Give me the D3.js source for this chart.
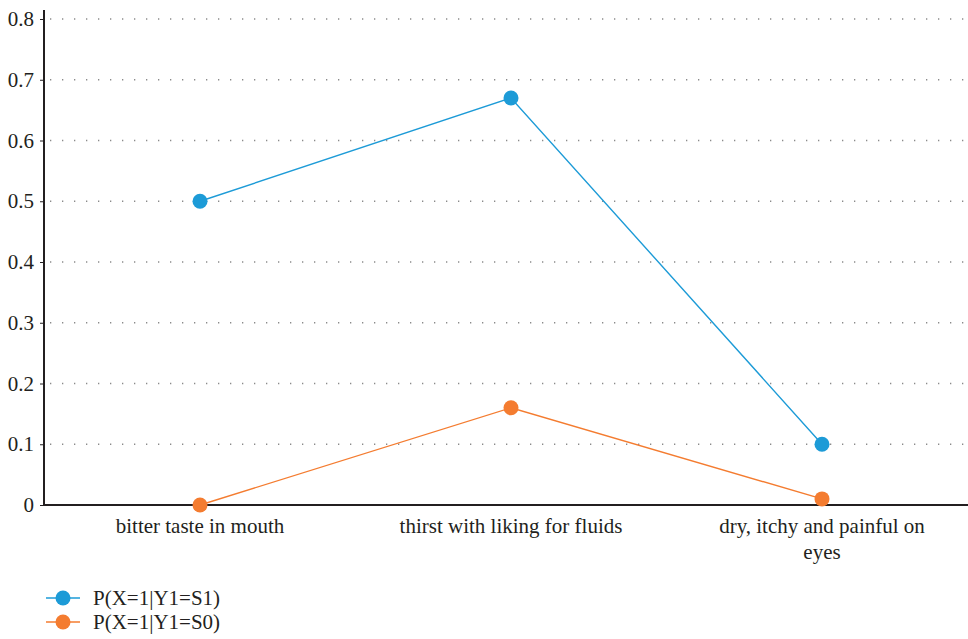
<!DOCTYPE html>
<html>
<head>
<meta charset="utf-8">
<script src="https://cdn.jsdelivr.net/npm/d3@7"></script>
<style>
  body { margin: 0; background: #fff; }
  svg text { font-family: "Liberation Serif", "DejaVu Serif", serif !important; fill: #231f20; }
</style>
</head>
<body>
<div id="chart"></div>
<script>
var categories = ["bitter taste in mouth", "thirst with liking for fluids", "dry, itchy and painful on eyes"];
var categoryLines = [["bitter taste in mouth"], ["thirst with liking for fluids"], ["dry, itchy and painful on", "eyes"]];
var seriesNames = ["P(X=1|Y1=S1)", "P(X=1|Y1=S0)"];
var seriesS1 = [0.5, 0.67, 0.1];
var seriesS0 = [0, 0.16, 0.01];
var yTicks = [0, 0.1, 0.2, 0.3, 0.4, 0.5, 0.6, 0.7, 0.8];
var colors = ["#1d9bd7", "#f47c30"];

var W = 968, H = 639;
var svg = d3.select("#chart").append("svg")
  .attr("width", W)
  .attr("height", H);

var x = d3.scaleBand().domain(categories).range([44.5, 977.5]);
var y = d3.scaleLinear().domain([0, 0.8]).range([505, 19]);

// grid
svg.append("g")
  .selectAll("line")
  .data(yTicks.filter(function(t){ return t > 0; }))
  .enter()
  .append("line")
  .attr("x1", 50)
  .attr("x2", W)
  .attr("y1", function(d){ return y(d); })
  .attr("y2", function(d){ return y(d); })
  .attr("stroke", "#8a8a8a")
  .attr("stroke-width", 1.3)
  .attr("stroke-dasharray", "1.3,10.7");

// y axis
var yAxis = svg.append("g")
  .attr("transform", "translate(44,0)")
  .call(d3.axisLeft(y).tickValues(yTicks).tickSize(4).tickPadding(6)
    .tickFormat(function(d){ return d === 0 ? "0" : d3.format(".1f")(d); }));
yAxis.attr("font-family", null).attr("font-size", null);
yAxis.select(".domain").remove();
yAxis.selectAll(".tick line").attr("stroke", "#231f20");
yAxis.selectAll("text").style("font-size", "21px").attr("fill", "#231f20");

svg.append("line")
  .attr("x1", 44).attr("x2", 44)
  .attr("y1", 10).attr("y2", 506)
  .attr("stroke", "#231f20").attr("stroke-width", 2);

// x axis
var xAxis = svg.append("g")
  .attr("transform", "translate(0,505)")
  .call(d3.axisBottom(x).tickSize(0).tickPadding(13));
xAxis.attr("font-family", null).attr("font-size", null);
xAxis.select(".domain").remove();
xAxis.selectAll("text").style("font-size", "21px").attr("fill", "#231f20")
  .each(function(d, i){
    var t = d3.select(this);
    t.text(null);
    categoryLines[i].forEach(function(s, j){
      t.append("tspan").attr("x", 0).attr("dy", j === 0 ? "0.71em" : "1.25em").text(s);
    });
    t.attr("dy", null);
  });

svg.append("line")
  .attr("x1", 44).attr("x2", W)
  .attr("y1", 505).attr("y2", 505)
  .attr("stroke", "#231f20").attr("stroke-width", 2);

// series
var series = [seriesS1, seriesS0];
var line = d3.line()
  .x(function(d, i){ return x(categories[i]) + x.bandwidth() / 2; })
  .y(function(d){ return y(d); });

series.forEach(function(vals, si){
  svg.append("path")
    .datum(vals)
    .attr("d", line)
    .attr("fill", "none")
    .attr("stroke", colors[si])
    .attr("stroke-width", 1.4);
  svg.append("g").selectAll("circle")
    .data(vals)
    .enter()
    .append("circle")
    .attr("cx", function(d, i){ return x(categories[i]) + x.bandwidth() / 2; })
    .attr("cy", function(d){ return y(d); })
    .attr("r", 7.5)
    .attr("fill", colors[si]);
});

// legend
var leg = svg.append("g").selectAll("g")
  .data(seriesNames)
  .enter()
  .append("g")
  .attr("transform", function(d, i){ return "translate(44," + (598 + i * 24) + ")"; });
leg.append("line")
  .attr("x1", 2).attr("x2", 36)
  .attr("stroke", function(d, i){ return colors[i]; })
  .attr("stroke-width", 1.6);
leg.append("circle")
  .attr("cx", 19).attr("r", 7.5)
  .attr("fill", function(d, i){ return colors[i]; });
leg.append("text")
  .attr("x", 49)
  .attr("dy", "0.35em")
  .style("font-size", "21px")
  .text(function(d){ return d; });
</script>
</body>
</html>
